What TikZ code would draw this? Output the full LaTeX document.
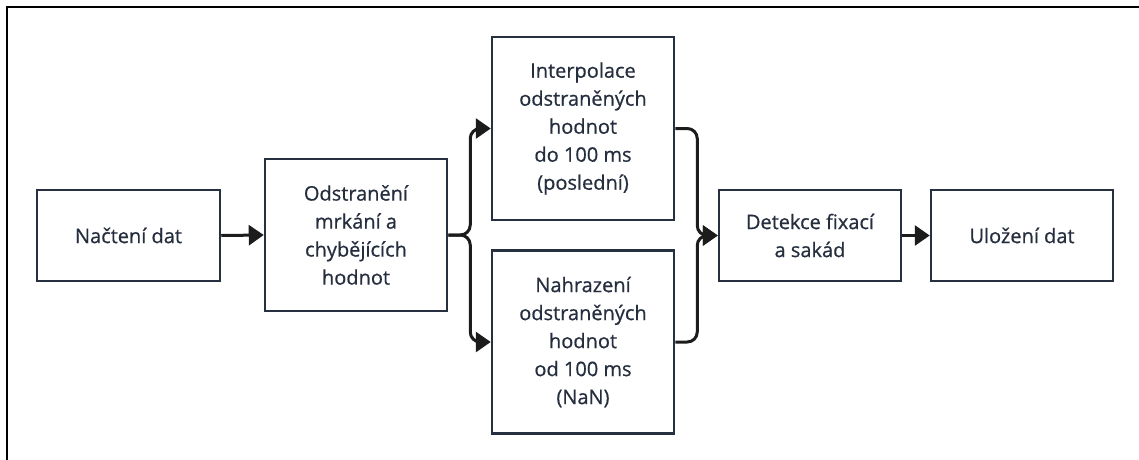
\documentclass[tikz,border=0pt]{standalone}
\usepackage{fontspec}
\setmainfont[FakeBold=0.6]{Open Sans}
\usetikzlibrary{arrows.meta}
\definecolor{boxline}{HTML}{263041}
\definecolor{boxtext}{HTML}{252E3E}
\definecolor{arrowcol}{HTML}{1C1C1C}
\begin{document}
\begin{tikzpicture}[x=1pt,y=-1pt,
  stepbox/.style={draw=boxline, line width=2.5pt, fill=white, inner sep=0pt,
    align=center, text=boxtext, font=\fontsize{20}{28}\selectfont},
  flow/.style={draw=arrowcol, line width=3pt, rounded corners=10pt,
    -{Triangle[length=15pt,width=20pt]}}]
\useasboundingbox (0,0) rectangle (1139,459);
\draw[line width=2pt, black] (7,470) -- (7,7) -- (1150,7);

\node[stepbox, minimum width=183pt, minimum height=91pt] (b1) at (128.5,235.5) {Načtení dat};
\node[stepbox, minimum width=182pt, minimum height=152pt] (b2) at (356,235) {Odstranění\\mrkání a\\chybějících\\hodnot};
\node[stepbox, minimum width=182pt, minimum height=183pt] (b3) at (583,128.5) {Interpolace\\odstraněných\\hodnot\\do 100 ms\\(poslední)};
\node[stepbox, minimum width=182pt, minimum height=183pt] (b4) at (583,342) {Nahrazení\\odstraněných\\hodnot\\od 100 ms\\(NaN)};
\node[stepbox, minimum width=182pt, minimum height=91pt] (b5) at (810,235.5) {Detekce fixací\\a sakád};
\node[stepbox, minimum width=182pt, minimum height=91pt] (b6) at (1022,235.5) {Uložení dat};

\draw[flow] (b1.east) -- (b2.west);
\draw[flow] (b2.east) -- ++(22,0) |- (b3.west);
\draw[flow] (b2.east) -- ++(22,0) |- (b4.west);
\draw[flow] (b3.east) -- ++(22,0) |- (b5.west);
\draw[flow] (b4.east) -- ++(22,0) |- (b5.west);
\draw[flow] (b5.east) -- (b6.west);
\end{tikzpicture}
\end{document}
